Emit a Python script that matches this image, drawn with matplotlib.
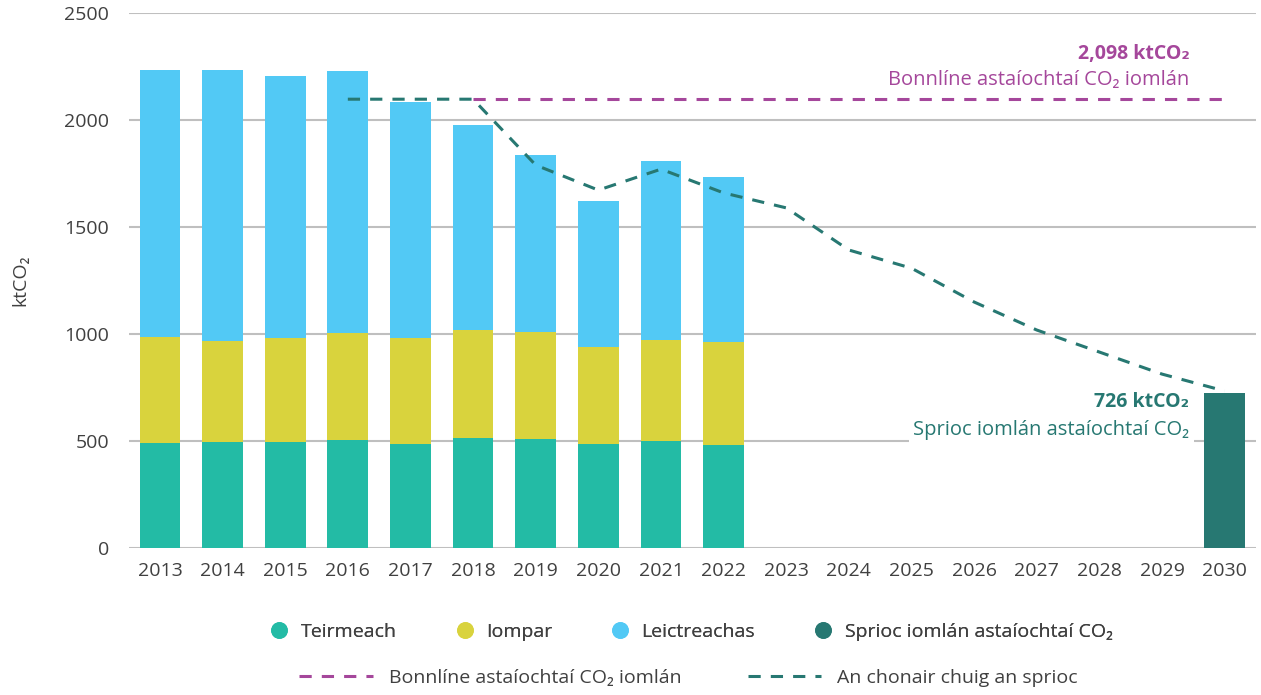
import matplotlib
matplotlib.use("Agg")
import matplotlib.pyplot as plt
from matplotlib.lines import Line2D
import numpy as np

plt.rcParams['font.family'] = ['Open Sans', 'DejaVu Sans']

years = [str(y) for y in range(2013, 2031)]
teirmeach =    [491, 495, 495, 505, 486, 514, 509, 486, 500, 481] + [None]*8
iompar =       [495, 472, 486, 500, 497, 506, 500, 453, 472, 482] + [None]*8
leictreachas = [1248, 1267, 1225, 1224, 1101, 957, 827, 682, 836, 771] + [None]*8
target = [None]*17 + [726]
baseline = [None]*5 + [2098]*13
pathway = [None]*3 + [2098, 2098, 2098, 1790, 1673, 1771, 1660, 1590, 1393, 1308, 1150, 1019, 916, 813, 734]

c_teirm = '#23BBA5'
c_iomp = '#D9D33D'
c_leic = '#52C9F5'
c_targ = '#277872'
c_base = '#A5479B'
c_path = '#277872'
c_text = '#404040'

fig = plt.figure(figsize=(12.61, 6.95), dpi=100)
ax = fig.add_axes([0.102, 0.2115, 0.894, 0.7695])

x = np.arange(len(years))
w = 0.65
n_hist = 10
t = np.array(teirmeach[:n_hist], dtype=float)
i_ = np.array(iompar[:n_hist], dtype=float)
l = np.array(leictreachas[:n_hist], dtype=float)
ax.bar(x[:n_hist], t, w, color=c_teirm, zorder=2)
ax.bar(x[:n_hist], i_, w, bottom=t, color=c_iomp, zorder=2)
ax.bar(x[:n_hist], l, w, bottom=t + i_, color=c_leic, zorder=2)
ax.bar(x[17], target[17], w, color=c_targ, zorder=2)

bx = [xi for xi, v in zip(x, baseline) if v is not None]
bv = [v for v in baseline if v is not None]
ax.plot(bx, bv, color=c_base, lw=2.2, ls=(0, (4, 3.3)), zorder=3)
px = [xi for xi, v in zip(x, pathway) if v is not None]
pv = [v for v in pathway if v is not None]
ax.plot(px, pv, color=c_path, lw=2.2, ls=(0, (4, 3.3)), zorder=4)

ax.set_xlim(-0.5, 17.5)
ax.set_ylim(0, 2500)
ax.set_yticks([0, 500, 1000, 1500, 2000, 2500])
ax.set_xticks(x)
ax.set_xticklabels(years)
ax.yaxis.grid(True, color='#BFBFBF', lw=1.5, zorder=0)
ax.set_axisbelow(True)
for s in ax.spines.values():
    s.set_visible(False)
ax.tick_params(length=0, labelsize=14, labelcolor=c_text)
ax.tick_params(axis='y', pad=14)
ax.tick_params(axis='x', pad=10)
ax.set_ylabel('ktCO₂', fontsize=14, color=c_text, labelpad=25)

ax.text(16.44, 2308, '2,098 ktCO₂', ha='right', va='center', fontsize=14,
        fontweight='bold', color=c_base, zorder=5)
ax.text(16.44, 2190, 'Bonnlíne astaíochtaí CO₂ iomlán', ha='right', va='center',
        fontsize=14.5, color=c_base, zorder=5)
ax.text(16.44, 683, '726 ktCO₂', ha='right', va='center', fontsize=14,
        fontweight='bold', color=c_targ, zorder=5)
ax.text(16.44, 550, 'Sprioc iomlán astaíochtaí CO₂', ha='right', va='center',
        fontsize=14.5, color=c_targ, zorder=5,
        bbox=dict(facecolor='white', edgecolor='none', pad=3))

h1 = [Line2D([], [], marker='o', ls='none', color=c, markersize=11)
      for c in [c_teirm, c_iomp, c_leic, c_targ]]
labels1 = ['Teirmeach', 'Iompar', 'Leictreachas', 'Sprioc iomlán astaíochtaí CO₂']
leg1 = fig.legend(h1, labels1, loc='center', bbox_to_anchor=(0.548, 0.091), ncol=4,
                  frameon=False, fontsize=14, handlelength=1.0, handletextpad=0.6,
                  columnspacing=3.0, labelcolor=c_text)
h2 = [Line2D([], [], color=c_base, lw=2.2, ls=(0, (4, 3.3))),
      Line2D([], [], color=c_path, lw=2.2, ls=(0, (4, 3.3)))]
labels2 = ['Bonnlíne astaíochtaí CO₂ iomlán', 'An chonair chuig an sprioc']
leg2 = fig.legend(h2, labels2, loc='center', bbox_to_anchor=(0.546, 0.025), ncol=2,
                  frameon=False, fontsize=14, handlelength=3.8, handletextpad=0.8,
                  columnspacing=3.4, labelcolor=c_text)
fig.add_artist(leg1)

fig.savefig('out.png', dpi=100)
